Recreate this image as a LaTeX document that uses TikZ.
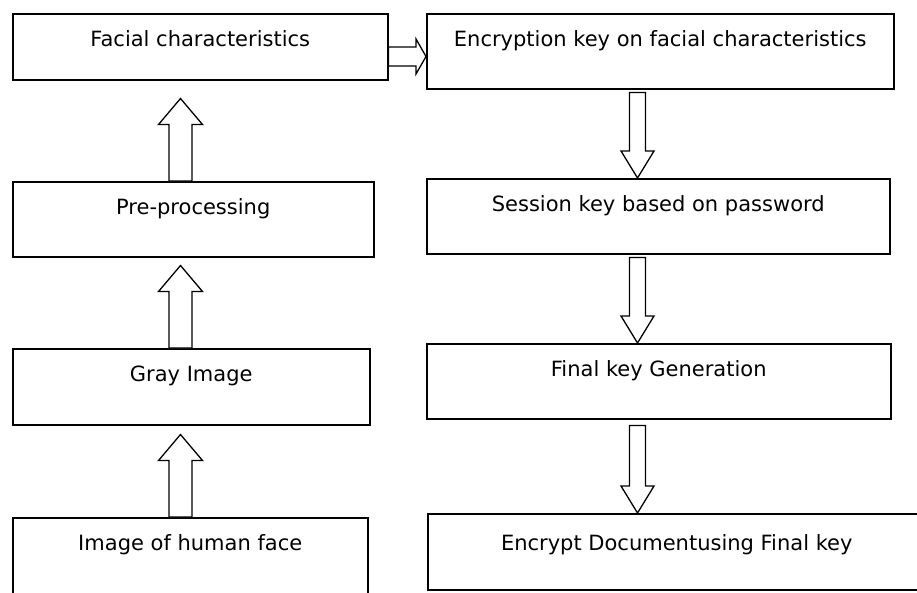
\documentclass[tikz,border=0pt]{standalone}
\usepackage{fontspec}
\setmainfont{DejaVu Sans}
\usetikzlibrary{calc}

\tikzset{
  box/.style={draw, line width=1.5pt, rectangle, inner sep=0pt, anchor=north west,
    text height=33pt, font=\fontsize{21}{25}\selectfont},
  hollow/.style={draw, line width=1.3pt, fill=white, line join=miter},
}

% hollow block arrows: #1 tail point, #2 tip point
\newcommand\hollowup[2]{%
  \draw[hollow] let \p1=(#1), \p2=(#2) in
    (\x1-11.5pt,\y1) -- (\x1-11.5pt,\y2-26pt) -- (\x1-22pt,\y2-26pt) -- (\x1,\y2)
    -- (\x1+22pt,\y2-26pt) -- (\x1+11.5pt,\y2-26pt) -- (\x1+11.5pt,\y1) -- cycle;}
\newcommand\hollowdown[2]{%
  \draw[hollow] let \p1=(#1), \p2=(#2) in
    (\x1-8pt,\y1) -- (\x1-8pt,\y2+27pt) -- (\x1-16.5pt,\y2+27pt) -- (\x1,\y2)
    -- (\x1+16.5pt,\y2+27pt) -- (\x1+8pt,\y2+27pt) -- (\x1+8pt,\y1) -- cycle;}
\newcommand\hollowright[2]{%
  \draw[hollow] let \p1=(#1), \p2=(#2) in
    (\x1,\y1+9.5pt) -- (\x2-10pt,\y1+9.5pt) -- (\x2-10pt,\y1+17.5pt) -- (\x2,\y2)
    -- (\x2-10pt,\y1-17.5pt) -- (\x2-10pt,\y1-9.5pt) -- (\x1,\y1-9.5pt) -- cycle;}

\begin{document}
\begin{tikzpicture}[x=1pt, y=-1pt]
  \useasboundingbox (0,0) rectangle (917,592);
  \fill[white] (0,0) rectangle (917,592);
  \clip (0,0) rectangle (917,592);

  % left column
  \node[box, minimum width=375pt, text depth=33pt] (l1) at (12,13) {Facial characteristics};
  \node[box, minimum width=361pt, text depth=42pt] (l2) at (12,181) {Pre-processing};
  \node[box, minimum width=357pt, text depth=43pt] (l3) at (12,348) {Gray Image};
  \node[box, minimum width=355pt, text depth=52pt] (l4) at (12,517) {Image of human face};

  % right column
  \node[box, minimum width=467pt, text depth=42pt] (r1) at (426,13) {Encryption key on facial characteristics};
  \node[box, minimum width=463pt, text depth=42pt] (r2) at (426,178) {Session key based on password};
  \node[box, minimum width=464pt, text depth=42pt] (r3) at (426,343) {Final key Generation};
  \node[box, minimum width=498pt, text height=37pt, text depth=39pt] (r4) at (427,513) {Encrypt Documentusing Final key};

  % arrow axes
  \coordinate (lc) at (180.5,0);
  \coordinate (rc) at (637.5,0);
  \coordinate (hc) at (0,56.5);

  \hollowup{l2.north -| lc}{$(l1.south -| lc)+(0,18)$}
  \hollowup{l3.north -| lc}{$(l2.south -| lc)+(0,8)$}
  \hollowup{l4.north -| lc}{$(l3.south -| lc)+(0,9)$}

  \hollowright{l1.east |- hc}{r1.west |- hc}

  \hollowdown{$(r1.south -| rc)+(0,3)$}{r2.north -| rc}
  \hollowdown{$(r2.south -| rc)+(0,3)$}{r3.north -| rc}
  \hollowdown{$(r3.south -| rc)+(0,6)$}{r4.north -| rc}
\end{tikzpicture}
\end{document}
